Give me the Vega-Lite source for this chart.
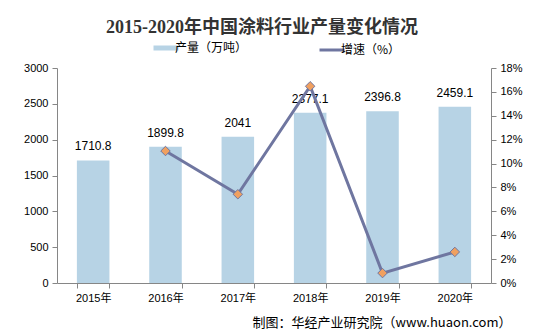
{
  "$schema": "https://vega.github.io/schema/vega-lite/v6.json",
  "autosize": {"type": "none"},
  "width": 434,
  "height": 215,
  "padding": {"left": 57, "top": 68, "right": 45, "bottom": 53},
  "background": "white",
  "title": {
    "text": "2015-2020年中国涂料行业产量变化情况",
    "font": "Liberation Serif, Noto Sans CJK SC",
    "fontSize": 18,
    "fontWeight": "bold",
    "color": "#333333",
    "anchor": "middle",
    "frame": "group",
    "dx": -12,
    "offset": 5
  },
  "data": {
    "values": [
      {"year": "2015年", "output": 1710.8, "growth": null},
      {"year": "2016年", "output": 1899.8, "growth": 11.05},
      {"year": "2017年", "output": 2041, "growth": 7.43},
      {"year": "2018年", "output": 2377.1, "growth": 16.47},
      {"year": "2019年", "output": 2396.8, "growth": 0.83},
      {"year": "2020年", "output": 2459.1, "growth": 2.6}
    ]
  },
  "encoding": {
    "x": {
      "field": "year",
      "type": "ordinal",
      "sort": null,
      "scale": {"paddingInner": 0.55, "paddingOuter": 0.275},
      "axis": {
        "title": "制图：华经产业研究院（www.huaon.com）",
        "titleFont": "Noto Sans CJK SC",
        "titleFontSize": 13,
        "titleFontWeight": "normal",
        "titleColor": "#000000",
        "titleAnchor": "end",
        "titleAlign": "right",
        "titleBaseline": "alphabetic",
        "titleX": 454,
        "titleY": 43,
        "labelAngle": 0,
        "labelFont": "Liberation Sans, Noto Sans CJK SC",
        "labelFontSize": 11,
        "labelColor": "#000000",
        "labelPadding": 4,
        "tickBand": "extent",
        "domainColor": "#868686",
        "tickColor": "#868686",
        "tickSize": 5
      }
    }
  },
  "layer": [
    {
      "encoding": {
        "y": {
          "field": "output",
          "type": "quantitative",
          "scale": {"domain": [0, 3000], "nice": false},
          "axis": {
            "title": null,
            "values": [0, 500, 1000, 1500, 2000, 2500, 3000],
            "format": "d",
            "grid": false,
            "labelFont": "Liberation Sans",
            "labelFontSize": 11,
            "labelColor": "#000000",
            "domainColor": "#868686",
            "tickColor": "#868686",
            "tickSize": 5,
            "labelPadding": 4
          }
        }
      },
      "layer": [
        {
          "mark": {"type": "bar", "color": "#b7d3e5"},
          "encoding": {
            "color": {
              "datum": "产量（万吨）",
              "type": "nominal",
              "scale": {"domain": ["产量（万吨）", "增速（%）"], "range": ["#b7d3e5", "#6f76a0"]},
              "legend": {
                "title": null,
                "orient": "none",
                "direction": "horizontal",
                "legendX": 103,
                "legendY": -26,
                "symbolType": "stroke",
                "symbolSize": 625,
                "symbolStrokeWidth": 4,
                "labelFont": "Noto Sans CJK SC",
                "labelFontSize": 12,
                "labelColor": "#000000",
                "labelOffset": 3,
                "columnPadding": 65,
                "encode": {
                  "symbols": {
                    "update": {
                      "strokeWidth": {"signal": "datum.value == '产量（万吨）' ? 5 : 3"}
                    }
                  }
                }
              }
            }
          }
        },
        {
          "mark": {
            "type": "text",
            "baseline": "bottom",
            "dy": -7,
            "font": "Liberation Sans",
            "fontSize": 12,
            "color": "#000000"
          },
          "encoding": {
            "text": {"field": "output", "type": "quantitative", "format": ".1~f"}
          }
        }
      ]
    },
    {
      "transform": [{"filter": "datum.growth != null"}],
      "encoding": {
        "y": {
          "field": "growth",
          "type": "quantitative",
          "scale": {"domain": [0, 18], "nice": false},
          "axis": {
            "title": null,
            "orient": "right",
            "values": [0, 2, 4, 6, 8, 10, 12, 14, 16, 18],
            "labelExpr": "datum.value + '%'",
            "grid": false,
            "labelFont": "Liberation Sans",
            "labelFontSize": 11,
            "labelColor": "#000000",
            "domainColor": "#868686",
            "tickColor": "#868686",
            "tickSize": 5,
            "labelPadding": 4
          }
        }
      },
      "layer": [
        {
          "mark": {"type": "line", "strokeWidth": 3},
          "encoding": {
            "color": {"datum": "增速（%）", "type": "nominal"}
          }
        },
        {
          "mark": {"type": "point", "shape": "diamond", "filled": true, "size": 90, "fill": "#f0a060", "stroke": "#6f76a0", "strokeWidth": 1, "opacity": 1}
        }
      ]
    }
  ],
  "resolve": {"scale": {"y": "independent"}},
  "config": {
    "view": {"stroke": null},
    "axis": {"grid": false}
  }
}
